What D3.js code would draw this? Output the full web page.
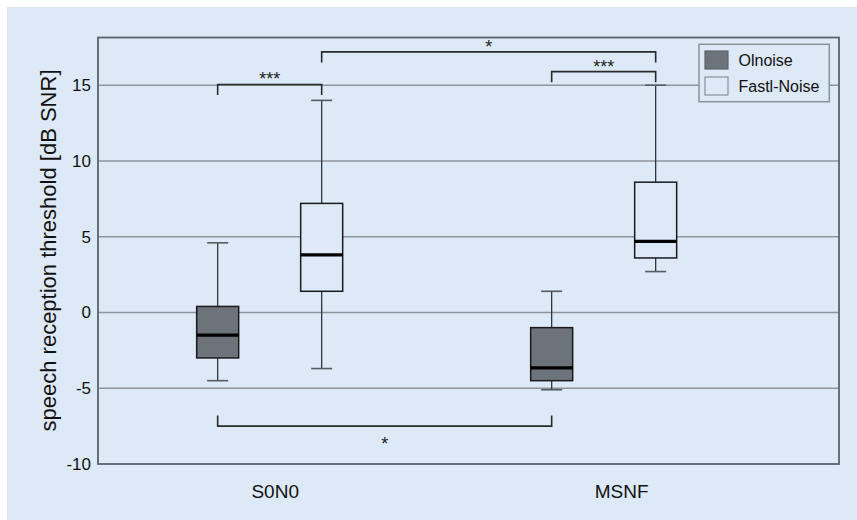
<!DOCTYPE html>
<html>
<head>
<meta charset="utf-8">
<script src="https://cdn.jsdelivr.net/npm/d3@7"></script>
<style>
  html, body { margin: 0; padding: 0; background: #ffffff; }
  svg { display: block; font-family: "Liberation Sans", Arial, sans-serif; }
</style>
</head>
<body>
<svg id="chart" width="857" height="520"></svg>
<script>
// ---- data ----
const categories = ["S0N0", "MSNF"];
const series = ["Olnoise", "Fastl-Noise"];
// [whiskerLow, q1, median, q3, whiskerHigh] per category, per series
const olnoiseStats = [[-4.5, -3.0, -1.5, 0.4, 4.6], [-5.1, -4.5, -3.65, -1.0, 1.4]];
const fastlStats   = [[-3.7, 1.4, 3.8, 7.2, 14.0], [2.7, 3.6, 4.7, 8.6, 15.0]];
const yTicks = [-10, -5, 0, 5, 10, 15];
const yTickLabels = ["-10", "-5", "0", "5", "10", "15"];
const yDomain = [-10, 18.15];
// significance brackets: from [category, series] to [category, series], level (dB), direction, label
const bracketFrom  = [["S0N0", "Olnoise"], ["S0N0", "Fastl-Noise"], ["MSNF", "Olnoise"], ["S0N0", "Olnoise"]];
const bracketTo    = [["S0N0", "Fastl-Noise"], ["MSNF", "Fastl-Noise"], ["MSNF", "Fastl-Noise"], ["MSNF", "Olnoise"]];
const bracketLevel = [15.05, 17.2, 15.9, -7.5];
const bracketDir   = [1, 1, 1, -1];
const bracketLabel = ["***", "*", "***", "*"];
const yTitle = "speech reception threshold [dB SNR]";

// ---- layout ----
const W = 857, H = 520;
const plot = { left: 98, right: 839, top: 37.5, bottom: 464 };
const colors = {
  panel: "#dde9f6",
  dark: "#6c737a",
  grid: "#8d949c",
  frame: "#5c6269",
  ink: "#222222",
  legendStroke: "#8a9199"
};
const boxWidth = 42, capWidth = 21;

const svg = d3.select("#chart");

// background panel
svg.append("rect").attr("x", 7).attr("y", 7).attr("width", W - 7).attr("height", H - 7).attr("fill", colors.panel);

const y = d3.scaleLinear().domain(yDomain).range([plot.bottom, plot.top]);

// group scale for boxes
const xGroup = d3.scaleBand().domain(categories).range([plot.left, plot.right])
  .paddingInner(0).paddingOuter(0.1093).align(0.064);
const xSeries = d3.scaleBand().domain(series).range([0, xGroup.bandwidth()])
  .paddingInner(0).paddingOuter(0.6058);
// label scale for category names
const xLabel = d3.scaleBand().domain(categories).range([plot.left, plot.right])
  .paddingInner(0).paddingOuter(0.0696).align(0.083);

const cx = (cat, ser) => xGroup(cat) + xSeries(ser) + xSeries.bandwidth() / 2;

// gridlines
svg.append("g").selectAll("line").data(yTicks.filter(t => t > yDomain[0])).join("line")
  .attr("x1", plot.left).attr("x2", plot.right)
  .attr("y1", d => y(d)).attr("y2", d => y(d))
  .attr("stroke", colors.grid).attr("stroke-width", 1.3);

// y axis labels
const yAxis = d3.axisLeft(y).tickValues(yTicks).tickSize(0).tickPadding(7)
  .tickFormat((d, i) => yTickLabels[i]);
const gy = svg.append("g").attr("transform", `translate(${plot.left},0)`).call(yAxis);
gy.select(".domain").remove();
gy.selectAll("text").attr("font-size", 17).attr("fill", "#111")
  .attr("font-family", "Liberation Sans, Arial, sans-serif");

// x axis labels
const xAxis = d3.axisBottom(xLabel).tickSize(0).tickPadding(21);
const gx = svg.append("g").attr("transform", `translate(0,${plot.bottom})`).call(xAxis);
gx.select(".domain").remove();
gx.selectAll("text").attr("font-size", 19).attr("fill", "#111")
  .attr("font-family", "Liberation Sans, Arial, sans-serif");

// y title
svg.append("text")
  .attr("transform", `translate(55.5,${(66 + 435) / 2}) rotate(-90)`)
  .attr("text-anchor", "middle")
  .attr("font-size", 22).attr("fill", "#111")
  .text(yTitle);

// boxes
const boxData = [];
categories.forEach((c, i) => {
  boxData.push({ cat: c, ser: series[0], s: olnoiseStats[i] });
  boxData.push({ cat: c, ser: series[1], s: fastlStats[i] });
});
const gb = svg.append("g");
boxData.forEach(d => {
  const x = cx(d.cat, d.ser);
  const [lo, q1, med, q3, hi] = d.s;
  const g = gb.append("g");
  // whiskers
  g.append("line").attr("x1", x).attr("x2", x).attr("y1", y(q3)).attr("y2", y(hi))
    .attr("stroke", "#333").attr("stroke-width", 1.3);
  g.append("line").attr("x1", x).attr("x2", x).attr("y1", y(q1)).attr("y2", y(lo))
    .attr("stroke", "#333").attr("stroke-width", 1.3);
  [lo, hi].forEach(v => {
    g.append("line").attr("x1", x - capWidth / 2).attr("x2", x + capWidth / 2)
      .attr("y1", y(v)).attr("y2", y(v))
      .attr("stroke", "#555b61").attr("stroke-width", 1.6);
  });
  g.append("rect").attr("x", x - boxWidth / 2).attr("y", y(q3))
    .attr("width", boxWidth).attr("height", y(q1) - y(q3))
    .attr("fill", d.ser === series[0] ? colors.dark : colors.panel)
    .attr("stroke", "#1a1a1a").attr("stroke-width", 1.5);
  g.append("line").attr("x1", x - boxWidth / 2).attr("x2", x + boxWidth / 2)
    .attr("y1", y(med)).attr("y2", y(med))
    .attr("stroke", "#000").attr("stroke-width", 3.2);
});

// frame
svg.append("rect").attr("x", plot.left).attr("y", plot.top)
  .attr("width", plot.right - plot.left).attr("height", plot.bottom - plot.top)
  .attr("fill", "none").attr("stroke", colors.frame).attr("stroke-width", 1.8);

// brackets
const legLen = 0.7;
const gs = svg.append("g");
bracketLevel.forEach((lvl, i) => {
  const x1 = cx(bracketFrom[i][0], bracketFrom[i][1]);
  const x2 = cx(bracketTo[i][0], bracketTo[i][1]);
  const dir = bracketDir[i];
  const yl = y(lvl), ye = y(lvl - dir * legLen);
  gs.append("path")
    .attr("d", `M${x1},${ye}V${yl}H${x2}V${ye}`)
    .attr("fill", "none").attr("stroke", "#2a2a2a").attr("stroke-width", 1.6);
  const ty = dir > 0 ? yl + 1 : yl + 23.5;
  gs.append("text").attr("x", (x1 + x2) / 2).attr("y", ty)
    .attr("text-anchor", "middle").attr("font-size", 18).attr("fill", "#222")
    .text(bracketLabel[i]);
});

// legend
const lg = svg.append("g");
lg.append("rect").attr("x", 699).attr("y", 44.3).attr("width", 130.3).attr("height", 57.4)
  .attr("fill", colors.panel).attr("stroke", colors.legendStroke).attr("stroke-width", 1.5);
series.forEach((s, i) => {
  const yy = 51 + i * 26;
  lg.append("rect").attr("x", 705).attr("y", yy).attr("width", 23).attr("height", 18)
    .attr("fill", i === 0 ? colors.dark : colors.panel)
    .attr("stroke", i === 0 ? "#5d646b" : colors.legendStroke).attr("stroke-width", 1.2);
  lg.append("text").attr("x", 738.5).attr("y", yy + 9).attr("dy", "0.35em")
    .attr("font-size", 16).attr("fill", "#111").text(s);
});
</script>
</body>
</html>
